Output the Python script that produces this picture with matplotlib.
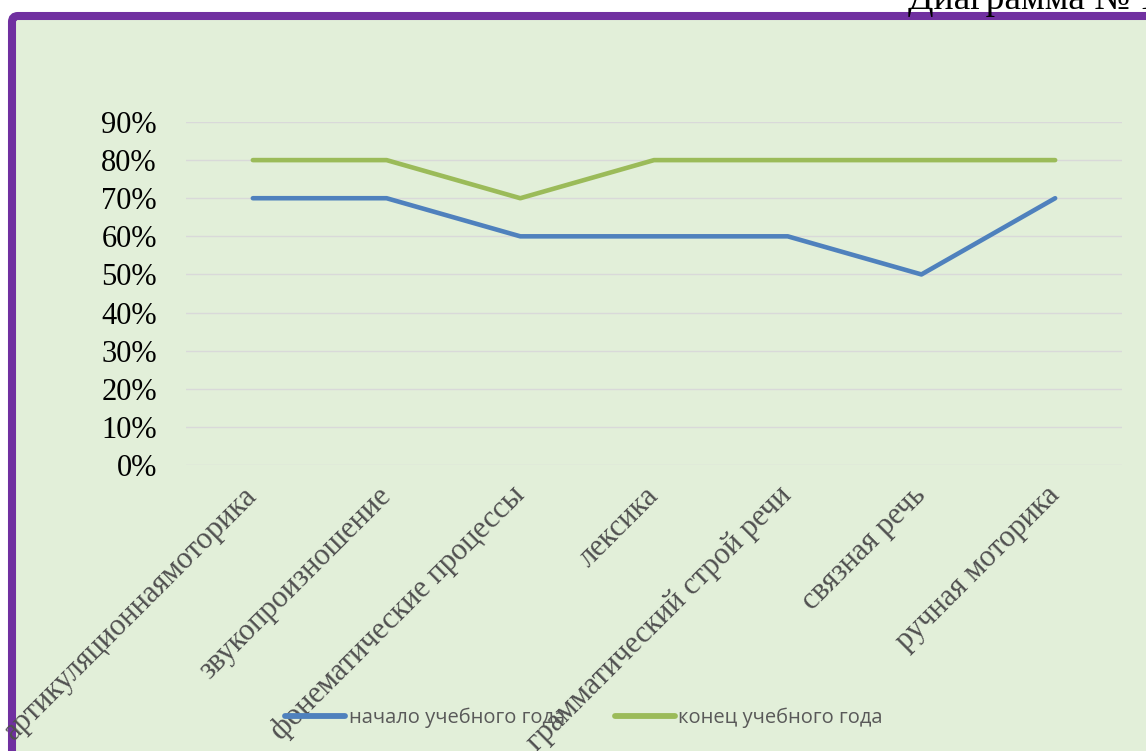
import matplotlib.pyplot as plt
from matplotlib.patches import FancyBboxPatch
from matplotlib.transforms import IdentityTransform

categories = ["артикуляционнаямоторика", "звукопроизношение", "фонематические процессы",
              "лексика", "грамматический строй речи", "связная речь", "ручная моторика"]
start_year = [0.70, 0.70, 0.60, 0.60, 0.60, 0.50, 0.70]
end_year = [0.80, 0.80, 0.70, 0.80, 0.80, 0.80, 0.80]
y_ticks = [0.0, 0.1, 0.2, 0.3, 0.4, 0.5, 0.6, 0.7, 0.8, 0.9]

W, H = 1146, 751
fig = plt.figure(figsize=(W / 100, H / 100), dpi=100)
fig.patch.set_facecolor("white")

# purple frame with light green fill (pixel coords)
frame = FancyBboxPatch((12, -40), W + 40, H + 40 - 16,
                       boxstyle="round,pad=0,rounding_size=6",
                       facecolor="#e2efd9", edgecolor="#7030a0", linewidth=5.8,
                       transform=IdentityTransform(), zorder=0)
fig.add_artist(frame)

fig.text(908 / W, 1 - 9 / H, "Диаграмма № 1", fontsize=27,
         family="Liberation Serif", va="baseline", ha="left", color="black")

ax = fig.add_axes([186 / W, 1 - 465 / H, (1122 - 186) / W, (465 - 122) / H])
ax.set_facecolor("none")
ax.set_zorder(2)

x = range(len(categories))
ax.plot(x, start_year, color="#4f81bd", linewidth=3.3, solid_capstyle="round",
        label="начало учебного года", zorder=3)
ax.plot(x, end_year, color="#9bbb59", linewidth=3.3, solid_capstyle="round",
        label="конец учебного года", zorder=3)

ax.set_xlim(-0.5, len(categories) - 0.5)
ax.set_ylim(0, 0.9)
ax.set_yticks(y_ticks)
ax.set_yticklabels([f"{int(round(v * 100))}%" for v in y_ticks],
                   family="Liberation Serif", fontsize=22, color="black")
ax.set_xticks(list(x))
ax.set_xticklabels(categories, rotation=45, ha="right", va="center",
                   rotation_mode="anchor", family="Liberation Serif",
                   fontsize=22, color="#505050")
ax.tick_params(axis="y", length=0, pad=21)
ax.tick_params(axis="x", length=0, pad=19)
ax.grid(axis="y", color="#d9d9d9", linewidth=1)
ax.set_axisbelow(True)
for s in ax.spines.values():
    s.set_visible(False)

leg = fig.legend(loc="center", bbox_to_anchor=(584 / W, 1 - 718 / H), ncol=2,
                 frameon=False, handlelength=3.0, handletextpad=0.15,
                 columnspacing=2.5, prop={"family": "Open Sans", "size": 14.5})
for t in leg.get_texts():
    t.set_color("#595959")
for h in leg.get_lines():
    h.set_linewidth(4.2)
    h.set_solid_capstyle("round")
leg.set_zorder(5)

fig.savefig("out.png", dpi=100)
